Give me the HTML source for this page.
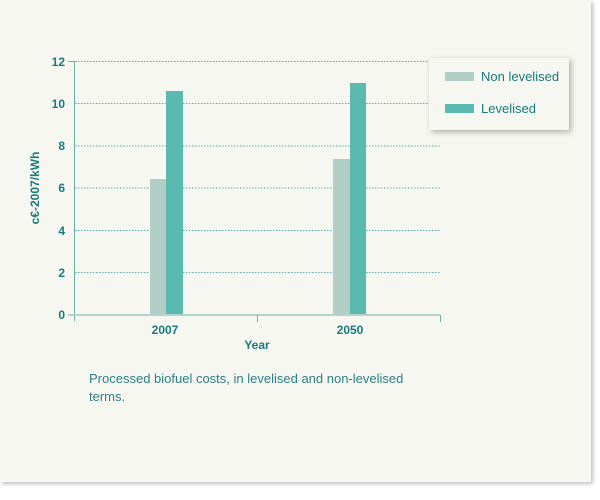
<!DOCTYPE html>
<html><head><style>
body{margin:0;width:600px;height:500px;background:#fff;position:relative;overflow:hidden;font-family:"Liberation Sans",sans-serif}
.panel{position:absolute;left:0;top:0;width:591px;height:482px;background:#f7f7f2;box-shadow:2px 2px 4px rgba(0,0,0,0.25)}
</style></head><body>
<div class="panel"></div>
<svg width="600" height="500" style="position:absolute;left:0;top:0" font-family="Liberation Sans, sans-serif">
<g stroke="#5aaea8" stroke-width="1" stroke-dasharray="1.5,1.5">
<line x1="75" x2="440" y1="61.5" y2="61.5"/>
<line x1="75" x2="440" y1="103.5" y2="103.5"/>
<line x1="75" x2="440" y1="146" y2="146"/>
<line x1="75" x2="440" y1="188" y2="188"/>
<line x1="75" x2="440" y1="230.5" y2="230.5"/>
<line x1="75" x2="440" y1="272.5" y2="272.5"/>
</g>
<rect x="150" y="179" width="16" height="136" fill="#b2cfc7"/>
<rect x="166" y="91" width="17" height="224" fill="#5bbab0"/>
<rect x="333" y="159" width="17" height="156" fill="#b2cfc7"/>
<rect x="350" y="83" width="16" height="232" fill="#5bbab0"/>
<line x1="74.5" y1="61" x2="74.5" y2="321" stroke="#6ab3ad"/>
<line x1="68" y1="315" x2="440" y2="315" stroke="#b2d4cf" stroke-width="2"/>
<g stroke="#6ab3ad"><line x1="68" x2="75" y1="61.5" y2="61.5"/><line x1="257.5" x2="257.5" y1="315" y2="322"/><line x1="440.5" x2="440.5" y1="315" y2="322"/></g>
<g fill="#1a7a7a" font-size="12" font-weight="bold" text-anchor="end">
<text x="65" y="66">12</text><text x="65" y="108">10</text><text x="65" y="150">8</text><text x="65" y="192">6</text><text x="65" y="235">4</text><text x="65" y="277">2</text><text x="65" y="319">0</text>
</g>
<g fill="#1a7a7a" font-size="12" font-weight="bold" text-anchor="middle">
<text x="165" y="334">2007</text><text x="350" y="334">2050</text><text x="257" y="349">Year</text>
<text transform="translate(39,188) rotate(-90)">c€-2007/kWh</text>
</g>
<rect x="429" y="58" width="140" height="72" fill="#f7f7f2" style="filter:drop-shadow(2px 2px 3px rgba(0,0,0,0.3))"/>
<rect x="445" y="72" width="29" height="9" fill="#b2cfc7"/>
<rect x="445" y="104" width="29" height="9" fill="#5bbab0"/>
<g fill="#1a7a7a" font-size="13"><text x="481" y="81">Non levelised</text><text x="481" y="113">Levelised</text></g>
<g fill="#2f7f84" font-size="13"><text x="89" y="383">Processed biofuel costs, in levelised and non-levelised</text><text x="89" y="401">terms.</text></g>
</svg>
</body></html>
